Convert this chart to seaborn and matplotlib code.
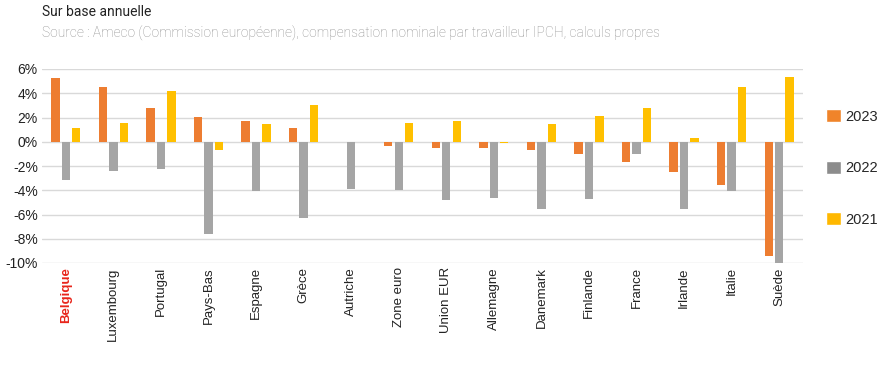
import numpy as np
import pandas as pd
import seaborn as sns
import matplotlib.pyplot as plt
from matplotlib.patches import Patch

# %% Data
countries = ['Belgique', 'Luxembourg', 'Portugal', 'Pays-Bas', 'Espagne', 'Grèce',
             'Autriche', 'Zone euro', 'Union EUR', 'Allemagne', 'Danemark',
             'Finlande', 'France', 'Irlande', 'Italie', 'Suède']
y2023 = [5.25, 4.53, 2.82, 2.05, 1.74, 1.16, 0.02, -0.39, -0.53, -0.53, -0.64,
         -1.05, -1.66, -2.49, -3.59, -9.40]
y2022 = [-3.15, -2.43, -2.24, -7.58, -4.09, -6.25, -3.90, -3.95, -4.81, -4.62, -5.53,
         -4.73, -0.97, -5.53, -4.04, -10.0]
y2021 = [1.16, 1.58, 4.20, -0.64, 1.49, 3.01, 0.02, 1.55, 1.74, -0.14, 1.49,
         2.16, 2.76, 0.28, 4.51, 5.36]
years = ['2023', '2022', '2021']
colors = {'2023': '#ED7D31', '2022': '#A5A5A5', '2021': '#FFC000'}
legend_colors = {'2023': '#F0842A', '2022': '#8C8C8C', '2021': '#FFB800'}

df = pd.DataFrame({'pays': countries * 3,
                   'annee': ['2023'] * len(countries) + ['2022'] * len(countries)
                   + ['2021'] * len(countries),
                   'val': y2023 + y2022 + y2021})

# %% Graph
sns.set_style('white')
plt.rcParams['font.family'] = ['Liberation Sans', 'DejaVu Sans']

fig = plt.figure(figsize=(8.84, 3.78), dpi=100)
ax = fig.add_axes([42 / 884, 1 - 263 / 378, (803 - 42) / 884, (263 - 69) / 378])

sns.barplot(df, x='pays', y='val', hue='annee', hue_order=years, palette=colors,
            width=0.66, gap=0.2, ax=ax, legend=False, edgecolor='none', saturation=1)

ax.set_ylim(-10, 6)
ax.set_xlim(-0.5, len(countries) - 0.5)
ax.set_yticks(np.arange(-10, 7, 2))
ax.set_yticklabels([f'{v}%' for v in range(-10, 7, 2)], fontsize=10, color='#222222')
ax.yaxis.grid(True, color='#D9D9D9', linewidth=1)
ax.set_axisbelow(True)
for s in ax.spines.values():
    s.set_visible(False)
ax.set_xlabel('')
ax.set_ylabel('')
ax.tick_params(axis='both', length=0, pad=3)
ax.set_xticks(range(len(countries)))
ax.set_xticklabels(countries, rotation=90, fontsize=9.5, color='#222222')
lbl = ax.get_xticklabels()[0]
lbl.set_color('#E8251B')
lbl.set_fontweight('bold')

handles = [Patch(facecolor=legend_colors[y], label=y) for y in years]
fig.legend(handles=handles, loc='upper left', bbox_to_anchor=(826 / 884, 1 - 109 / 378),
           frameon=False, fontsize=10.5, handlelength=1.0, handleheight=1.0,
           handletextpad=0.35, labelspacing=2.55, borderpad=0, borderaxespad=0)

fig.text(42 / 884, 1 - 12 / 378, 'Sur base annuelle', fontsize=10, color='#222222',
         va='center', family=['Roboto', 'DejaVu Sans'])
fig.text(42 / 884, 1 - 33 / 378,
         'Source : Ameco (Commission européenne), compensation nominale par travailleur IPCH, calculs propres',
         fontsize=9.9, color='#8E8E8E', va='center', family=['Roboto', 'DejaVu Sans'],
         fontweight='light')

fig.savefig('out.png', dpi=100)
